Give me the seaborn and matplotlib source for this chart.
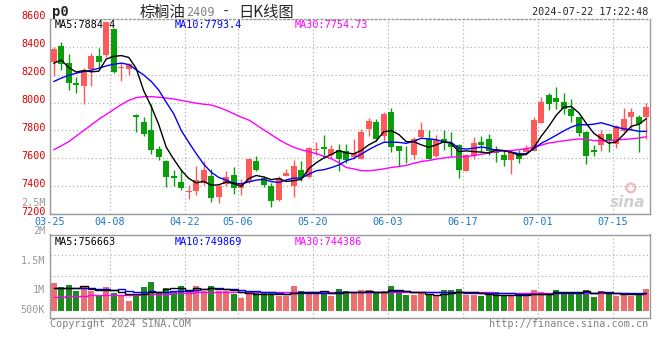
import numpy as np
import pandas as pd
import seaborn as sns
import matplotlib
matplotlib.use("Agg")
import matplotlib.pyplot as plt

# ---- data (palm oil p2409 daily K) ----
tick_labels = ["03-25", "04-08", "04-22", "05-06", "05-20", "06-03", "06-17", "07-01", "07-15"]
tick_index = [0, 8, 18, 25, 35, 45, 55, 65, 75]
price_ticks = [7200, 7400, 7600, 7800, 8000, 8200, 8400, 8600]

open_ = [8290, 8405, 8286, 8138, 8121, 8238, 8333, 8340, 8526, 8245,
         8238, 7912, 7864, 7805, 7667, 7579, 7471, 7429, 7357, 7364,
         7424, 7471, 7321, 7419, 7481, 7390, 7431, 7581, 7460, 7400,
         7300, 7476, 7400, 7519, 7464, 7662, 7679, 7621, 7662, 7655,
         7612, 7598, 7812, 7864, 7757, 7933, 7690, 7612, 7621, 7750,
         7740, 7614, 7740, 7702, 7698, 7512, 7614, 7719, 7740, 7662,
         7621, 7588, 7638, 7643, 7650, 7850, 8055, 8031, 8002, 7955,
         7893, 7786, 7662, 7693, 7776, 7702, 7798, 7895, 7895, 7893]
high = [8400, 8436, 8345, 8186, 8245, 8352, 8388, 8579, 8531, 8281,
        8286, 7919, 7900, 7988, 7686, 7590, 7519, 7526, 7412, 7548,
        7579, 7526, 7417, 7512, 7538, 7455, 7605, 7614, 7471, 7424,
        7471, 7526, 7590, 7579, 7681, 7721, 7769, 7698, 7702, 7702,
        7740, 7814, 7888, 7883, 7929, 7964, 7690, 7686, 7750, 7860,
        7805, 7769, 7805, 7788, 7702, 7631, 7750, 7757, 7774, 7686,
        7650, 7650, 7662, 7698, 7900, 8043, 8071, 8114, 8067, 8026,
        7893, 7793, 7698, 7805, 7781, 7836, 7964, 7960, 7912, 8000]
low = [8190, 8233, 8090, 8067, 7988, 8121, 8245, 8329, 8210, 8157,
       8198, 7788, 7757, 7631, 7590, 7393, 7400, 7376, 7310, 7336,
       7412, 7290, 7281, 7400, 7343, 7340, 7424, 7510, 7393, 7250,
       7293, 7471, 7321, 7436, 7460, 7626, 7602, 7602, 7507, 7567,
       7593, 7593, 7757, 7726, 7726, 7645, 7543, 7567, 7595, 7745,
       7598, 7607, 7662, 7614, 7460, 7507, 7595, 7645, 7626, 7574,
       7545, 7488, 7567, 7643, 7650, 7850, 7948, 7952, 7917, 7859,
       7757, 7562, 7614, 7655, 7643, 7674, 7788, 7805, 7645, 7738]
close = [8380, 8274, 8138, 8126, 8226, 8336, 8293, 8574, 8221, 8255,
         8274, 7893, 7776, 7662, 7607, 7464, 7460, 7388, 7367, 7448,
         7519, 7317, 7405, 7467, 7390, 7419, 7598, 7517, 7412, 7293,
         7460, 7495, 7543, 7460, 7676, 7669, 7667, 7669, 7598, 7591,
         7640, 7786, 7869, 7740, 7921, 7681, 7650, 7607, 7740, 7805,
         7598, 7733, 7717, 7683, 7514, 7621, 7710, 7698, 7650, 7636,
         7588, 7645, 7598, 7674, 7876, 8002, 7993, 8002, 7955, 7907,
         7779, 7614, 7643, 7774, 7733, 7829, 7883, 7929, 7848, 7971]

ma5 = [8281, 8305, 8250, 8218, 8229, 8220, 8224, 8311, 8330, 8336,
       8323, 8243, 8084, 7972, 7842, 7680, 7594, 7516, 7457, 7425,
       7436, 7408, 7411, 7431, 7420, 7400, 7456, 7478, 7467, 7448,
       7456, 7435, 7441, 7450, 7527, 7569, 7603, 7628, 7656, 7639,
       7633, 7657, 7697, 7725, 7791, 7799, 7772, 7720, 7720, 7697,
       7680, 7697, 7719, 7707, 7649, 7654, 7649, 7645, 7639, 7663,
       7656, 7643, 7623, 7628, 7676, 7759, 7829, 7909, 7966, 7972,
       7927, 7851, 7780, 7743, 7709, 7719, 7772, 7830, 7844, 7884]
ma10 = [8150, 8175, 8195, 8210, 8222, 8232, 8245, 8262, 8274, 8282,
        8272, 8234, 8197, 8151, 8089, 8002, 7919, 7800, 7715, 7634,
        7558, 7501, 7464, 7444, 7423, 7418, 7432, 7445, 7449, 7434,
        7428, 7446, 7459, 7459, 7487, 7512, 7519, 7534, 7553, 7583,
        7601, 7630, 7663, 7691, 7715, 7716, 7715, 7708, 7723, 7744,
        7740, 7734, 7719, 7714, 7673, 7667, 7673, 7682, 7673, 7656,
        7655, 7646, 7634, 7633, 7670, 7708, 7736, 7766, 7797, 7824,
        7843, 7840, 7845, 7855, 7840, 7823, 7812, 7805, 7794, 7793]
ma30 = [7662, 7690, 7720, 7760, 7800, 7840, 7880, 7915, 7950, 7985,
        8015, 8035, 8042, 8042, 8038, 8032, 8026, 8015, 8005, 7995,
        7988, 7982, 7965, 7945, 7920, 7895, 7875, 7840, 7805, 7770,
        7735, 7705, 7680, 7662, 7648, 7635, 7615, 7598, 7570, 7535,
        7525, 7512, 7512, 7517, 7525, 7535, 7542, 7550, 7565, 7578,
        7585, 7595, 7603, 7610, 7612, 7614, 7620, 7630, 7638, 7648,
        7655, 7657, 7662, 7670, 7680, 7695, 7710, 7718, 7726, 7733,
        7740, 7735, 7728, 7726, 7729, 7732, 7736, 7740, 7745, 7755]

# volume in millions of lots
volume = [1.21, 1.03, 1.11, 0.85, 1.07, 0.85, 0.68, 1.03, 0.76, 0.64,
          0.43, 0.68, 1.03, 1.24, 0.76, 0.98, 0.81, 1.07, 0.85, 1.07,
          0.87, 1.07, 0.87, 0.87, 0.73, 0.57, 0.76, 0.76, 0.76, 0.78,
          0.65, 0.65, 1.07, 0.87, 0.78, 0.76, 0.76, 0.65, 0.94, 0.85,
          0.76, 0.90, 0.90, 0.76, 0.85, 1.07, 0.85, 0.68, 0.68, 0.76,
          0.68, 0.64, 0.90, 0.90, 0.94, 0.68, 0.68, 0.64, 0.68, 0.81,
          0.68, 0.68, 0.64, 0.68, 0.90, 0.81, 0.68, 0.90, 0.76, 0.81,
          0.81, 0.90, 0.58, 0.85, 0.76, 0.64, 0.77, 0.64, 0.77, 0.94]
vol_ma5 = [1.00, 1.00, 1.00, 1.00, 1.05, 0.98, 0.91, 0.90, 0.88, 0.79,
           0.71, 0.71, 0.71, 0.80, 0.83, 0.94, 0.96, 0.97, 0.89, 0.96,
           0.93, 0.99, 0.95, 0.95, 0.88, 0.82, 0.76, 0.74, 0.72, 0.73,
           0.74, 0.72, 0.78, 0.80, 0.80, 0.83, 0.85, 0.76, 0.78, 0.79,
           0.79, 0.82, 0.87, 0.83, 0.83, 0.90, 0.89, 0.84, 0.83, 0.81,
           0.73, 0.69, 0.73, 0.78, 0.81, 0.81, 0.82, 0.77, 0.72, 0.70,
           0.70, 0.70, 0.70, 0.70, 0.72, 0.74, 0.74, 0.79, 0.81, 0.79,
           0.79, 0.84, 0.77, 0.79, 0.78, 0.75, 0.72, 0.73, 0.72, 0.757]
vol_ma10 = [1.00, 1.00, 1.00, 1.00, 0.98, 0.95, 0.93, 0.92, 0.90, 0.92,
            0.85, 0.81, 0.80, 0.84, 0.81, 0.82, 0.84, 0.84, 0.85, 0.89,
            0.94, 0.98, 0.96, 0.92, 0.92, 0.88, 0.87, 0.84, 0.83, 0.80,
            0.78, 0.74, 0.76, 0.76, 0.77, 0.78, 0.78, 0.77, 0.79, 0.80,
            0.81, 0.83, 0.82, 0.81, 0.81, 0.84, 0.85, 0.86, 0.83, 0.82,
            0.81, 0.79, 0.79, 0.80, 0.81, 0.77, 0.75, 0.75, 0.75, 0.76,
            0.76, 0.76, 0.73, 0.71, 0.71, 0.72, 0.72, 0.75, 0.75, 0.75,
            0.77, 0.79, 0.78, 0.80, 0.79, 0.77, 0.78, 0.75, 0.75, 0.75]
vol_ma30 = [0.61, 0.61, 0.62, 0.64, 0.65, 0.66, 0.67, 0.68, 0.68, 0.68,
            0.69, 0.70, 0.71, 0.72, 0.73, 0.74, 0.76, 0.77, 0.78, 0.79,
            0.80, 0.81, 0.82, 0.82, 0.82, 0.82, 0.82, 0.82, 0.82, 0.82,
            0.81, 0.81, 0.81, 0.80, 0.80, 0.80, 0.80, 0.80, 0.80, 0.80,
            0.80, 0.80, 0.80, 0.80, 0.80, 0.80, 0.80, 0.80, 0.80, 0.80,
            0.80, 0.80, 0.80, 0.80, 0.80, 0.80, 0.79, 0.79, 0.79, 0.78,
            0.78, 0.77, 0.77, 0.77, 0.77, 0.76, 0.76, 0.76, 0.76, 0.76,
            0.76, 0.75, 0.75, 0.75, 0.75, 0.75, 0.75, 0.745, 0.745, 0.744]

RED = "#ff5a5a"
GREEN = "#0a9f0a"
GRID = "#b4b4b4"
FRAME = "#999999"
MONO = "DejaVu Sans Mono"
CJK = ["Noto Sans CJK SC", "DejaVu Sans"]
FS = 7.3

sns.set_style("white")
plt.rcParams["font.family"] = ["DejaVu Sans Mono", "DejaVu Sans"]

df = pd.DataFrame({"open": open_, "high": high, "low": low, "close": close,
                   "ma5": ma5, "ma10": ma10, "ma30": ma30, "vol": volume,
                   "vma5": vol_ma5, "vma10": vol_ma10, "vma30": vol_ma30})
df["idx"] = np.arange(len(df))
df["up"] = df["close"] >= df["open"]
colors = np.where(df["up"], RED, GREEN)

W, H = 660, 360
fig = plt.figure(figsize=(W / 100, H / 100), dpi=100)


def px_axes(left, top, right, bottom):
    return fig.add_axes([left / W, 1 - bottom / H, (right - left) / W, (bottom - top) / H])


ax = px_axes(50, 18.7, 650, 214.3)
axv = px_axes(50, 234.5, 650, 317.5)

# ---- candles ----
ax.vlines(df["idx"], df["low"], df["high"], colors=colors, lw=1, zorder=3)
body_lo = df[["open", "close"]].min(axis=1)
body_h = (df["open"] - df["close"]).abs().clip(lower=4)
ax.bar(df["idx"], body_h, bottom=body_lo, width=0.8, color=colors, lw=0, zorder=4)

# ---- moving averages ----
sns.lineplot(data=df, x="idx", y="ma30", color="#ff00ff", lw=1, ax=ax, zorder=5)
sns.lineplot(data=df, x="idx", y="ma10", color="#0000ff", lw=1, ax=ax, zorder=5)
sns.lineplot(data=df, x="idx", y="ma5", color="black", lw=1, ax=ax, zorder=5)

ax.set_xlim(-0.5, len(df) - 0.5)
ax.set_ylim(price_ticks[0], price_ticks[-1])
ax.set_yticks(price_ticks)
ax.set_yticklabels([])
for v in price_ticks:
    # the price labels sit a little above their grid lines
    ax.annotate(str(v), xy=(0, v), xycoords=ax.get_yaxis_transform(),
                xytext=(-3, 2), textcoords="offset points", ha="right", va="center",
                color="#e00000", fontsize=FS, family=MONO, annotation_clip=False)
ax.set_xticks(np.array(tick_index) - 0.5)
ax.set_xticklabels(tick_labels, color="#1a78c8", fontsize=FS, family=MONO)
ax.tick_params(length=0, pad=2)
ax.grid(True, color=GRID, ls=(0, (1, 2)), lw=0.9)
ax.set_xlabel("")
ax.set_ylabel("")
for sp in ax.spines.values():
    sp.set_color(FRAME)
    sp.set_linewidth(1)
ax.spines["top"].set_linestyle((0, (1, 2)))

ax.text(0.008, 0.995, "MA5:7884.4", transform=ax.transAxes, ha="left", va="top",
        color="black", fontsize=FS, family=MONO)
ax.text(0.208, 0.995, "MA10:7793.4", transform=ax.transAxes, ha="left", va="top",
        color="#0000ff", fontsize=FS, family=MONO)
ax.text(0.408, 0.995, "MA30:7754.73", transform=ax.transAxes, ha="left", va="top",
        color="#ff00ff", fontsize=FS, family=MONO)
ax.text(-0.008, 0.06, "2.5M", transform=ax.transAxes, ha="right", va="center",
        color="#999999", fontsize=FS, family=MONO)
# sina watermark
ax.scatter([0.968], [0.135], transform=ax.transAxes, s=40, facecolors="none",
           edgecolors="#f3b8b8", linewidths=1.6, zorder=2)
ax.text(0.962, 0.06, "sina", transform=ax.transAxes, ha="center", va="center",
        color="#cfcfcf", fontsize=11, style="italic", weight="bold", family="DejaVu Sans", zorder=2)

# ---- volume ----
sns.barplot(data=df, x="idx", y="vol", hue="up", palette={True: RED, False: GREEN},
            native_scale=True, width=0.8, dodge=False, errorbar=None, legend=False,
            linewidth=0, ax=axv)
sns.lineplot(data=df, x="idx", y="vma30", color="#ff00ff", lw=1, drawstyle="steps-mid", ax=axv)
sns.lineplot(data=df, x="idx", y="vma10", color="#0000ff", lw=1, drawstyle="steps-mid", ax=axv)
sns.lineplot(data=df, x="idx", y="vma5", color="black", lw=1, drawstyle="steps-mid", ax=axv)
axv.set_xlim(-0.5, len(df) - 0.5)
vlo, vhi = -0.286, 3.28
axv.set_ylim(vlo, vhi)
axv.set_yticks(np.linspace(vlo, vhi, 5))
axv.set_yticklabels([])
axv.set_xticks(np.array(tick_index) - 0.5)
axv.set_xticklabels([])
axv.tick_params(length=0)
axv.grid(True, color=GRID, ls=(0, (1, 2)), lw=0.9)
axv.set_xlabel("")
axv.set_ylabel("")
for sp in axv.spines.values():
    sp.set_color(FRAME)
    sp.set_linewidth(1)

for label, frac in [("2M", 1.045), ("1.5M", 0.68), ("1M", 0.33), ("500K", 0.09)]:
    axv.text(-0.008, frac, label, transform=axv.transAxes, ha="right", va="center",
             color="#999999", fontsize=FS, family=MONO, clip_on=False)

axv.text(0.008, 0.97, "MA5:756663", transform=axv.transAxes, ha="left", va="top",
         color="black", fontsize=FS, family=MONO)
axv.text(0.208, 0.97, "MA10:749869", transform=axv.transAxes, ha="left", va="top",
         color="#0000ff", fontsize=FS, family=MONO)
axv.text(0.408, 0.97, "MA30:744386", transform=axv.transAxes, ha="left", va="top",
         color="#ff00ff", fontsize=FS, family=MONO)


# ---- header / footer ----
def fig_text(x, y, s, **kw):
    fig.text(x / W, 1 - y / H, s, **kw)


fig_text(52, 12, "p0", ha="left", va="center", fontsize=10, weight="bold", family=MONO)
fig_text(140, 12, "棕榈油", ha="left", va="center", fontsize=11, family=CJK)
fig_text(186, 12, "2409", ha="left", va="center", fontsize=8.5, color="#808080", family=MONO)
fig_text(222, 12, "-", ha="left", va="center", fontsize=10, family=MONO)
fig_text(238, 12, "日K线图", ha="left", va="center", fontsize=11, family=CJK)
fig_text(648, 12, "2024-07-22 17:22:48", ha="right", va="center", fontsize=FS, family=MONO)
fig_text(50, 324, "Copyright 2024 SINA.COM", ha="left", va="center", fontsize=FS,
         color="#808080", family=MONO)
fig_text(648, 324, "http://finance.sina.com.cn", ha="right", va="center", fontsize=FS,
         color="#808080", family=MONO)

fig.savefig("out.png", dpi=100, facecolor="white")
